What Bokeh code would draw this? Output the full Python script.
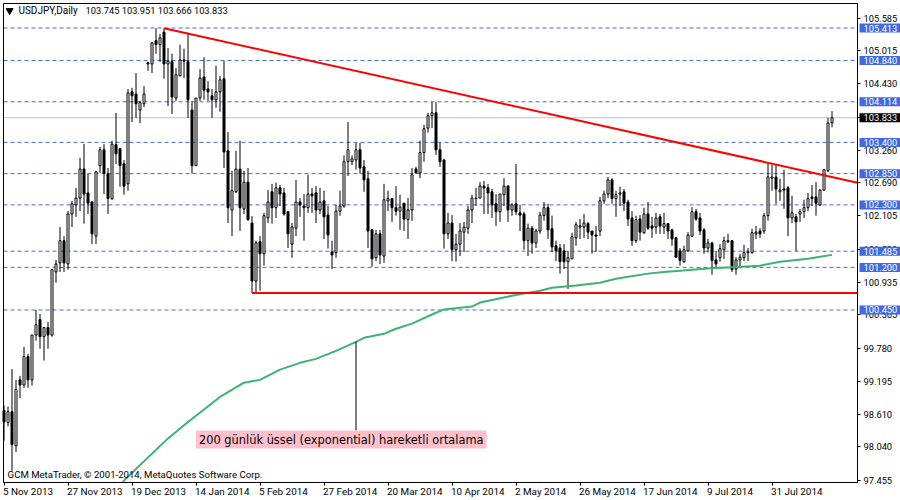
from bokeh.plotting import figure
from bokeh.core.properties import value
from bokeh.models import (ColumnDataSource, FixedTicker, NumeralTickFormatter, Range1d, Label, LabelSet)
from bokeh.embed import file_html
from bokeh.resources import INLINE

opens = [98.68,98.47,98.66,98.06,99.22,99.13,99.63,99.22,100.01,100.28,
99.98,100.14,100.01,101.12,101.28,101.67,101.26,102.14,102.30,102.42,
102.93,102.51,102.35,101.75,102.99,103.27,102.85,102.41,103.36,103.29,
103.02,102.67,104.29,104.25,103.97,104.08,104.80,104.78,105.19,105.12,
105.34,104.78,104.82,104.18,104.57,104.85,104.82,103.97,102.99,104.18,
104.55,104.34,104.22,104.15,104.29,104.52,103.25,102.21,102.53,102.93,
102.23,102.70,101.98,100.96,101.65,101.44,102.07,102.53,102.25,102.60,
102.51,102.18,101.61,101.89,102.35,102.28,102.25,102.49,102.51,102.21,
102.37,102.12,101.47,101.46,102.19,102.28,103.06,103.06,103.09,103.27,
102.97,102.76,101.86,101.37,101.79,101.40,102.37,102.41,102.25,102.19,
102.33,102.04,102.21,102.93,102.86,103.22,103.65,103.87,103.92,103.27,
103.09,101.79,101.98,101.51,101.61,101.82,101.89,102.21,102.41,102.42,
102.63,102.60,102.53,102.32,102.18,102.48,102.63,102.21,102.32,102.16,
102.14,101.67,101.89,101.63,101.84,102.11,102.25,101.88,101.58,101.54,
101.49,101.30,101.35,101.72,101.91,101.91,101.97,101.84,101.77,101.84,
102.37,102.49,102.74,102.41,102.49,102.53,102.35,102.07,101.67,102.05,
101.81,102.14,101.93,101.91,102.09,101.91,101.97,101.86,101.72,101.49,
101.30,101.49,101.75,102.18,102.07,101.86,101.54,101.63,101.33,101.37,
101.51,101.65,101.67,101.17,101.33,101.37,101.47,101.46,101.79,101.84,
101.84,102.11,102.77,102.79,102.53,102.58,102.60,102.07,102.09,102.14,
102.18,102.25,102.44,102.44,102.30,102.56,102.90,103.745]
highs = [98.77,98.75,99.41,99.22,99.29,99.80,99.68,100.01,100.45,100.38,
100.14,100.24,101.16,101.33,101.91,101.75,102.19,102.37,102.60,103.13,
103.37,102.85,102.37,102.90,103.32,103.37,102.95,103.43,103.92,103.29,
103.09,104.34,104.36,104.62,104.13,104.39,104.82,105.17,105.41,105.31,
105.41,105.06,104.96,104.71,105.12,105.05,105.33,104.13,104.18,104.69,
104.90,104.48,104.34,104.75,104.57,104.83,103.58,102.90,103.25,103.43,
102.90,102.95,102.10,101.67,101.75,102.16,102.56,102.67,102.69,102.65,
102.60,102.18,101.98,102.74,102.42,102.49,102.83,102.60,102.63,102.60,
102.55,102.28,101.67,102.30,102.55,103.17,103.76,103.17,103.39,103.39,
103.09,102.90,101.88,101.86,101.86,102.67,102.55,102.42,102.63,102.48,
102.33,102.42,102.95,102.97,103.43,103.71,103.92,104.11,104.11,103.39,
103.11,102.16,102.12,101.79,101.98,102.00,102.28,102.48,102.60,102.70,
102.72,102.67,102.58,102.49,102.49,102.77,102.65,102.33,103.02,102.30,
102.18,101.97,101.93,101.88,102.18,102.35,102.32,102.11,101.67,101.61,
101.61,101.49,101.81,102.00,102.05,102.14,102.00,101.84,101.93,102.44,
102.55,102.79,102.77,102.55,102.62,102.58,102.39,102.19,102.11,102.12,
102.25,102.35,102.09,102.16,102.14,102.16,101.97,101.88,101.74,101.54,
101.58,101.82,102.26,102.23,102.16,101.89,101.70,101.65,101.49,101.61,
101.74,101.79,101.67,101.38,101.44,101.60,101.54,101.88,101.93,101.89,
102.16,103.04,103.00,103.00,102.76,102.92,102.63,102.46,102.14,102.23,
102.39,102.51,102.65,102.70,102.58,102.92,103.83,103.951]
lows = [98.15,98.40,97.62,97.95,98.90,99.08,99.08,99.12,99.91,99.77,
99.56,99.77,99.98,100.93,101.12,101.12,101.16,101.91,102.09,102.19,
101.97,102.14,101.61,101.61,102.86,102.49,102.14,102.39,103.02,102.62,
102.48,102.55,103.76,103.83,103.74,104.02,104.66,104.62,104.96,104.82,
104.52,104.04,103.90,104.13,104.57,104.53,103.83,102.85,102.99,104.13,
104.15,104.13,103.83,104.01,103.94,102.95,101.98,101.75,102.51,101.84,
102.14,102.02,100.75,100.75,100.79,101.23,101.98,101.97,102.07,102.28,
102.11,101.54,101.37,101.75,102.09,101.67,102.16,102.16,101.98,102.14,
101.70,101.53,101.17,101.37,102.11,102.25,102.81,103.00,102.92,102.85,
102.53,101.54,101.21,101.31,101.26,101.28,102.19,102.00,102.11,101.86,
101.84,101.70,102.02,102.86,102.77,103.06,103.57,103.65,103.18,102.97,
101.53,101.70,101.31,101.30,101.40,101.47,101.79,101.98,102.28,102.42,
102.14,102.14,102.07,101.93,102.00,102.28,102.00,102.11,102.12,101.84,
101.51,101.40,101.44,101.54,101.79,102.02,101.70,101.47,101.31,101.09,
101.17,100.82,101.35,101.58,101.70,101.72,101.70,101.44,101.47,101.75,
102.32,102.42,102.32,102.09,102.28,102.19,101.93,101.58,101.63,101.67,
101.79,101.86,101.72,101.79,101.79,101.79,101.70,101.58,101.38,101.23,
101.28,101.47,101.74,102.02,101.77,101.44,101.46,101.07,101.19,101.30,
101.35,101.63,101.12,101.07,101.19,101.31,101.31,101.44,101.70,101.72,
101.79,102.02,102.55,102.32,102.37,102.23,101.75,101.98,101.49,102.00,
102.07,102.19,102.28,102.11,102.28,102.55,102.88,103.666]
closes = [98.48,98.66,98.08,99.05,99.13,99.63,99.22,100.01,100.19,99.98,
100.14,100.01,101.16,101.26,101.67,101.28,102.14,102.32,102.42,102.93,
102.49,102.33,101.79,102.88,103.27,102.85,102.41,103.37,103.20,102.99,
102.63,104.27,104.22,104.08,104.10,104.25,104.78,105.15,105.12,105.24,
104.78,104.83,104.20,104.59,104.85,104.83,104.15,102.99,104.18,104.53,
104.32,104.29,104.15,104.29,104.50,103.23,102.25,102.55,102.93,102.25,
102.70,102.04,100.96,101.63,101.44,102.11,102.35,102.25,102.60,102.49,
102.14,101.79,101.91,102.35,102.30,102.25,102.49,102.46,102.21,102.35,
102.09,101.77,101.42,102.19,102.28,103.06,103.27,103.11,103.27,102.95,
102.74,101.84,101.35,101.79,101.42,102.39,102.41,102.25,102.19,102.26,
102.05,102.21,102.83,102.86,103.22,103.64,103.87,103.92,103.27,103.06,
101.79,101.98,101.51,101.61,101.84,101.91,102.21,102.42,102.42,102.63,
102.60,102.51,102.30,102.18,102.49,102.63,102.21,102.30,102.18,102.12,
101.67,101.89,101.63,101.84,102.12,102.25,101.86,101.56,101.49,101.30,
101.30,101.37,101.74,101.95,101.93,101.98,101.82,101.77,101.75,102.37,
102.49,102.74,102.41,102.48,102.51,102.33,102.05,101.67,102.04,101.82,
102.14,101.89,101.89,102.07,101.93,101.97,101.84,101.70,101.38,101.32,
101.51,101.77,102.18,102.05,101.84,101.54,101.63,101.32,101.26,101.53,
101.67,101.67,101.16,101.33,101.38,101.46,101.46,101.81,101.82,101.79,
102.11,102.79,102.79,102.58,102.56,102.56,102.07,102.16,102.00,102.18,
102.25,102.41,102.41,102.33,102.56,102.92,103.74,103.833]

ema_bars = [29.8,30,41,46,54,60,64,69,74,78,83,88,90,95,98,102,107,110,117,119,127,130,134,137,143,149,153,161,165,176,189,194,201,207]
ema_vals = [97.414,97.45,98.19,98.48,98.92,99.17,99.22,99.40,99.52,99.59,99.73,99.89,99.96,100.03,100.12,100.21,100.37,100.46,100.51,100.58,100.70,100.74,100.79,100.84,100.88,100.93,101.00,101.09,101.12,101.18,101.23,101.30,101.35,101.42]

date_ticks = [0,16,32,48,64,80,96,112,128,144,160,176,192]
date_labels = ["5 Nov 2013","27 Nov 2013","19 Dec 2013","14 Jan 2014","5 Feb 2014","27 Feb 2014","20 Mar 2014","10 Apr 2014","2 May 2014","26 May 2014","17 Jun 2014","9 Jul 2014","31 Jul 2014"]
price_ticks = [105.585,105.015,104.430,103.845,103.260,102.690,102.105,101.520,100.935,100.365,99.780,99.195,98.610,98.040,97.455]
levels = [105.413,104.840,104.114,103.400,102.850,102.300,101.485,101.200,100.450]
last_close = 103.833
trend_bars = [40,213.375]
trend_vals = [105.41,102.69]
support_bars = [62,213.375]
support_vals = [100.75,100.75]
leader_bar = 88
leader_vals = [99.89,98.33]

FONT = "Roboto"
FS = "9.3px"
X0, X1 = -0.125, 213.375     # plot box in bar units
Y0, Y1 = 97.414, 105.844     # plot box in price units

# The frame fills the whole canvas; the chart box, axes and badges sit inside it.
p = figure(width=900, height=500, output_backend="svg", toolbar_location=None,
           x_range=Range1d(-0.875, 224.125), y_range=Range1d(97.097, 105.897),
           y_axis_location="right", min_border_left=0, min_border_top=0,
           min_border_right=0, min_border_bottom=0, margin=0,
           background_fill_color="white", border_fill_color="white")
p.grid.visible = False
p.outline_line_color = None

ax = p.yaxis[0]
ax.fixed_location = X1
ax.bounds = (Y0, Y1)
ax.ticker = FixedTicker(ticks=price_ticks)
ax.formatter = NumeralTickFormatter(format="0.000")
ax.major_tick_in = 0
ax.major_tick_out = 3
ax.minor_tick_line_color = None
ax.major_tick_line_color = "black"
ax.axis_line_color = "black"
ax.major_label_text_font = FONT
ax.major_label_text_font_size = FS
ax.major_label_text_color = "black"
ax.major_label_standoff = 3

bx = p.xaxis[0]
bx.fixed_location = Y0
bx.bounds = (X0, X1)
bx.ticker = FixedTicker(ticks=date_ticks)
bx.major_label_overrides = {t: "" for t in date_ticks}
bx.major_tick_in = 0
bx.major_tick_out = 3
bx.minor_tick_line_color = None
bx.major_tick_line_color = "black"
bx.axis_line_color = "black"

p.segment([X0]*len(levels), levels, [X1]*len(levels), levels, line_color="#4169E1", line_width=1, line_dash="4 3")
p.segment([X0], [last_close], [X1], [last_close], line_color="#C0C0C0", line_width=1)

bars = list(range(len(closes)))
src = ColumnDataSource(dict(
    x=bars, o=opens, h=highs, l=lows, c=closes,
    top=[max(a, b) for a, b in zip(opens, closes)],
    bottom=[min(a, b) for a, b in zip(opens, closes)],
    fill=["white" if c >= o else "black" for o, c in zip(opens, closes)],
))
p.segment("x", "h", "x", "l", source=src, line_color="black", line_width=1)
p.vbar("x", 0.5, "top", "bottom", source=src, fill_color="fill", line_color="black", line_width=1)

p.line(ema_bars, ema_vals, line_color="#3CB371", line_width=2)
p.line(trend_bars, trend_vals, line_color="#FF0000", line_width=2)
p.line(support_bars, support_vals, line_color="#FF0000", line_width=2)
p.line([leader_bar, leader_bar], leader_vals, line_color="black", line_width=1)

p.segment([X0, X0, X0, X1], [Y0, Y1, Y0, Y0], [X1, X1, X0, X1], [Y0, Y1, Y1, Y1], line_color="black", line_width=1)

p.scatter([1.4], [105.72], marker="inverted_triangle", size=7, fill_color="black", line_color="black")
p.add_layout(Label(x=3.6, y=105.72, text="USDJPY,Daily", text_font=FONT, text_font_size="10px", text_baseline="middle", text_color="black"))
p.add_layout(Label(x=20.4, y=105.72, text="103.745 103.951 103.666 103.833", text_font=FONT, text_font_size=FS, text_baseline="middle", text_color="black"))
p.add_layout(Label(x=0.9, y=97.55, text="GCM MetaTrader, © 2001-2014, MetaQuotes Software Corp.", text_font=FONT, text_font_size="9.6px", text_baseline="middle", text_color="black"))

p.add_layout(Label(x=48, y=98.17, text="200 günlük üssel (exponential) hareketli ortalama", text_font="DejaVu Sans", text_font_size="11.4px",
                   text_baseline="middle", text_color="black",
                   background_fill_color="#FFC0CB", padding=(3, 2)))

date_src = ColumnDataSource(dict(x=date_ticks, y=[Y0]*len(date_ticks), text=date_labels))
p.add_layout(LabelSet(x="x", y="y", text="text", source=date_src, text_font=value(FONT), text_font_size=value("9.9px"),
                      text_baseline="top", text_align="left", x_offset=-1, y_offset=-4, text_color="black"))

BX = 213.875
for v, bg in [(lv, "#4169E1") for lv in levels] + [(last_close, "black")]:
    p.add_layout(Label(x=BX, y=v, text=f"{v:.3f}", text_font=FONT, text_font_size=FS, text_baseline="middle",
                       text_color="white", background_fill_color=bg, padding=(4, 1)))

open("out.html", "w").write(file_html(p, INLINE))
